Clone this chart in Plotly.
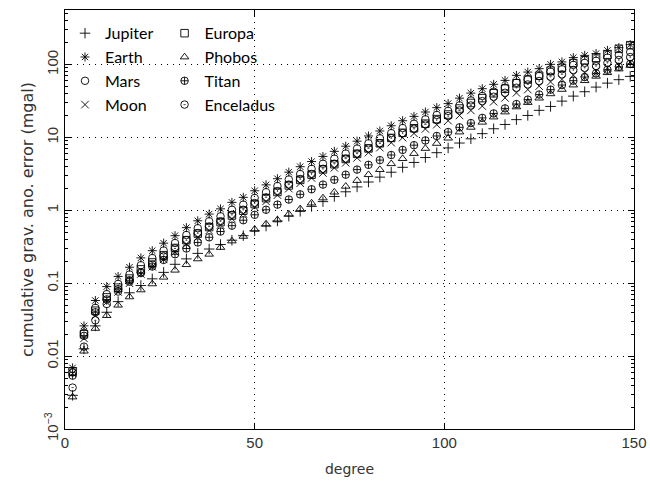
import plotly.graph_objects as go

degree = [2, 5, 8, 11, 14, 17, 20, 23, 26, 29, 32, 35, 38, 41, 44, 47, 50, 53, 56, 59,
          62, 65, 68, 71, 74, 77, 80, 83, 86, 89, 92, 95, 98, 101, 104, 107, 110, 113, 116, 119,
          122, 125, 128, 131, 134, 137, 140, 143, 146, 149]

jupiter = [0.0029, 0.0126, 0.026, 0.040, 0.056, 0.074, 0.093, 0.115, 0.141, 0.182,
           0.216, 0.257, 0.295, 0.34, 0.39, 0.45, 0.525, 0.61, 0.715, 0.834,
           0.97, 1.135, 1.32, 1.55, 1.80, 2.10, 2.45, 2.86, 3.34, 3.90,
           4.55, 5.31, 6.19, 7.2, 8.4, 9.6, 11.3, 13.2, 15.1, 17.6,
           20.1, 23.6, 26.7, 31.6, 37.0, 42.5, 49.2, 55.8, 62.2, 69.0]
earth = [0.0069, 0.026, 0.058, 0.090, 0.124, 0.166, 0.223, 0.28, 0.355, 0.45,
         0.58, 0.72, 0.89, 1.05, 1.29, 1.51, 1.86, 2.24, 2.72, 3.35,
         3.98, 4.68, 5.5, 6.46, 7.6, 8.9, 10.5, 12.3, 14.5, 17.0,
         19.5, 22.4, 25.7, 29.2, 34.7, 40.7, 46.8, 53.7, 60.8, 71.3,
         79.1, 88.1, 101, 109, 125, 134, 142, 157, 171, 188]
mars = [0.0060, 0.021, 0.046, 0.071, 0.098, 0.132, 0.177, 0.222, 0.282, 0.357,
        0.46, 0.57, 0.71, 0.83, 1.02, 1.20, 1.48, 1.78, 2.16, 2.66,
        3.16, 3.72, 4.37, 5.13, 6.03, 7.07, 8.34, 9.77, 11.5, 13.5,
        15.5, 17.8, 20.4, 23.2, 27.6, 32.3, 37.2, 42.6, 48.3, 56.6,
        62.8, 70.0, 80.2, 86.5, 99.2, 106, 113, 125, 136, 149]
moon = [0.0058, 0.0175, 0.036, 0.055, 0.076, 0.100, 0.134, 0.168, 0.213, 0.27,
        0.345, 0.43, 0.53, 0.63, 0.77, 0.90, 1.11, 1.33, 1.62, 1.99,
        2.36, 2.78, 3.26, 3.83, 4.50, 5.26, 6.2, 7.25, 8.5, 9.95,
        11.4, 13.1, 15.0, 17.0, 20.1, 23.5, 27.0, 30.9, 35.0, 41.0,
        45.5, 50.7, 58.0, 62.7, 71.9, 77.0, 81.6, 90.3, 98.3, 108]
europa = [0.0062, 0.020, 0.042, 0.064, 0.087, 0.116, 0.155, 0.193, 0.243, 0.305,
          0.39, 0.48, 0.59, 0.69, 0.85, 0.99, 1.22, 1.47, 1.79, 2.20,
          2.62, 3.09, 3.65, 4.30, 5.08, 5.97, 7.08, 8.33, 9.87, 11.6,
          13.4, 15.5, 17.9, 20.7, 25.0, 29.8, 34.7, 40.5, 46.8, 55.6,
          62.5, 70.5, 82.8, 90.5, 105, 115, 124, 137, 165, 185]
phobos = [0.00275, 0.0117, 0.024, 0.036, 0.050, 0.065, 0.081, 0.098, 0.121, 0.151,
          0.18, 0.216, 0.25, 0.31, 0.38, 0.44, 0.55, 0.65, 0.74, 0.89,
          1.05, 1.26, 1.48, 1.78, 2.14, 2.57, 3.09, 3.63, 4.37, 5.13,
          6.03, 7.08, 8.3, 9.8, 11.9, 13.8, 16.2, 19.1, 22.4, 26.3,
          30.2, 34.7, 39.8, 45.7, 52.5, 60.3, 69.2, 77.6, 87.1, 97.7]
titan = [0.0054, 0.019, 0.040, 0.060, 0.083, 0.11, 0.138, 0.17, 0.209, 0.25,
         0.30, 0.363, 0.427, 0.513, 0.617, 0.733, 0.87, 1.02, 1.20, 1.41,
         1.66, 1.95, 2.26, 2.63, 3.09, 3.63, 4.22, 4.90, 5.75, 6.76,
         7.85, 9.12, 10.5, 11.9, 13.8, 15.8, 18.6, 21.4, 25.1, 28.8,
         33.1, 38.9, 45.4, 52.5, 60.3, 67.6, 75.9, 85.1, 93.3, 102]
enceladus = [0.0037, 0.0135, 0.031, 0.052, 0.077, 0.105, 0.142, 0.182, 0.235, 0.30,
             0.39, 0.487, 0.60, 0.71, 0.87, 1.02, 1.26, 1.51, 1.84, 2.26,
             2.69, 3.16, 3.72, 4.37, 5.14, 6.02, 7.10, 8.31, 9.80, 11.5,
             13.2, 15.1, 17.4, 19.7, 23.5, 27.5, 31.6, 36.3, 41.1, 48.2,
             53.5, 59.6, 68.3, 73.7, 84.5, 90.6, 96.0, 106, 116, 127]

ytickvals = [0.001, 0.01, 0.1, 1, 10, 100]
yticktext = ["10<sup>\u22123</sup>", "0.01", "0.1", "1", "10", "100"]
xtickvals = [0, 50, 100, 150]

series = [
    ("Jupiter", jupiter, "cross-thin-open", "legend"),
    ("Earth", earth, "asterisk-open", "legend"),
    ("Mars", mars, "circle-open", "legend"),
    ("Moon", moon, "x-thin-open", "legend"),
    ("Europa", europa, "square-open", "legend2"),
    ("Phobos", phobos, "triangle-up-open", "legend2"),
    ("Titan", titan, "circle-cross-open", "legend2"),
    ("Enceladus", enceladus, "circle-open-dot", "legend2"),
]

fig = go.Figure()
for name, vals, sym, leg in series:
    fig.add_trace(go.Scatter(
        x=degree, y=vals, mode="markers", name=name, legend=leg,
        marker=dict(symbol=sym, size=7.5, color="black", line=dict(color="black", width=0.9)),
    ))

axis_common = dict(
    showline=True, linecolor="black", linewidth=1, mirror="ticks",
    ticks="inside", ticklen=6, tickcolor="black",
    showgrid=True, gridcolor="black", gridwidth=1, griddash="1px,5px",
    zeroline=False, automargin=False,
    tickfont=dict(family="Liberation Sans, Arial", size=15, color="#333"),
)

fig.update_xaxes(range=[0, 150], tickvals=xtickvals, title_text="degree", title_standoff=14,
                 title_font=dict(family="DejaVu Sans", size=14, color="#333"), **axis_common)
fig.update_yaxes(type="log", range=[-3, 2.75], tickvals=ytickvals, ticktext=yticktext,
                 tickangle=-90, title_text="cumulative grav. ano. error (mgal)", title_standoff=4,
                 title_font=dict(family="DejaVu Sans", size=16, color="#333"),
                 minor=dict(ticks="inside", ticklen=3, tickcolor="black", showgrid=False,
                            tickvals=[v * m for v in [0.001, 0.01, 0.1, 1, 10, 100] for m in range(2, 10)]),
                 **axis_common)

legend_common = dict(
    xanchor="left", yanchor="top", bgcolor="rgba(0,0,0,0)", borderwidth=0,
    font=dict(family="Lato, Open Sans", size=16, color="black"),
    itemwidth=30, tracegroupgap=0, orientation="v",
)
fig.update_layout(
    width=650, height=488,
    margin=dict(l=65, r=16, t=10, b=59),
    plot_bgcolor="white", paper_bgcolor="white",
    showlegend=True,
    legend=dict(x=0.0, y=0.985, **legend_common),
    legend2=dict(x=0.175, y=0.985, **legend_common),
)

fig.write_html("out.html")
